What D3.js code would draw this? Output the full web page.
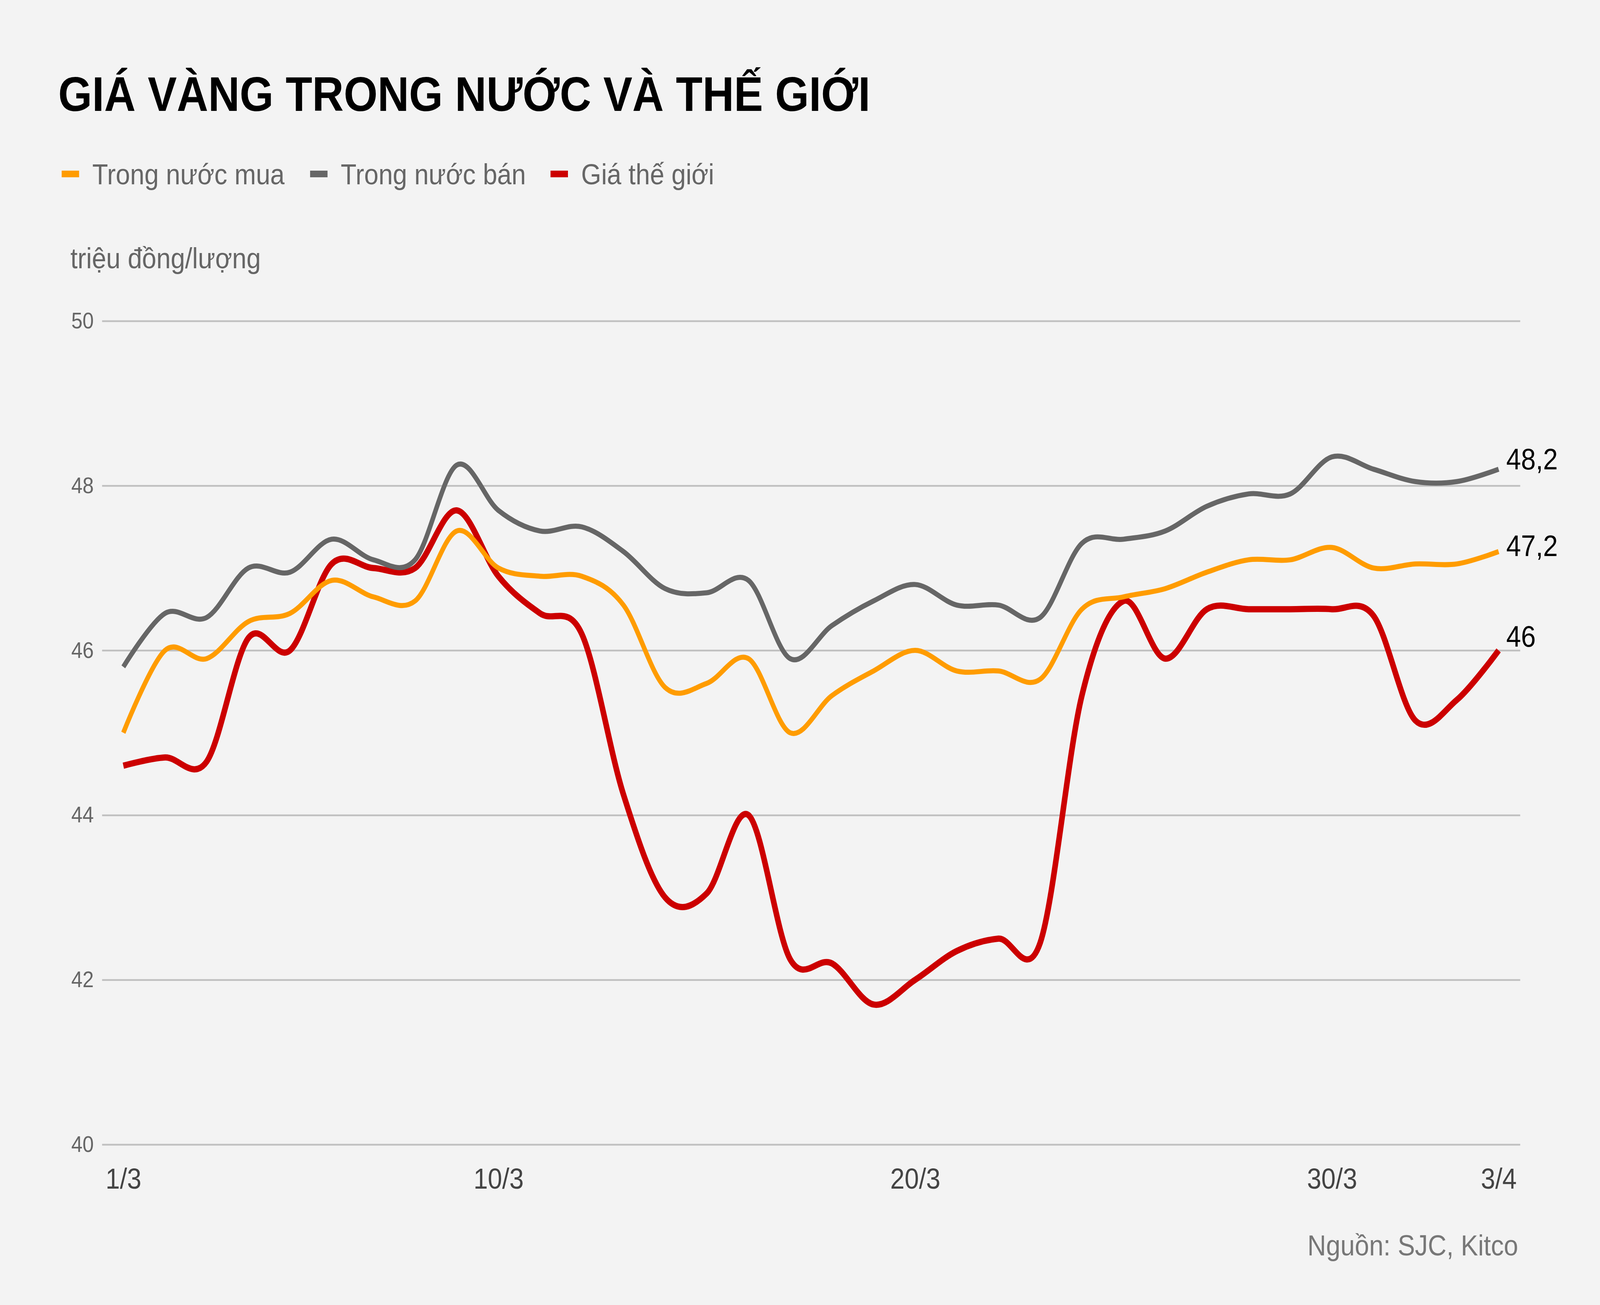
<!DOCTYPE html>
<html>
<head>
<meta charset="utf-8">
<script src="https://cdn.jsdelivr.net/npm/d3@7"></script>
<style>
  html, body { margin: 0; padding: 0; background: #f3f3f3; overflow: hidden; }
  svg { display: block; width: 100vw; height: 100vh; font-family: "Liberation Sans", Arial, sans-serif; }
</style>
</head>
<body>
<div id="chart"></div>
<script>
// dates, one point per day
const dates = ['1/3','2/3','3/3','4/3','5/3','6/3','7/3','8/3','9/3','10/3',
  '11/3','12/3','13/3','14/3','15/3','16/3','17/3','18/3','19/3','20/3',
  '21/3','22/3','23/3','24/3','25/3','26/3','27/3','28/3','29/3','30/3',
  '31/3','1/4','2/4','3/4'];
const tickDates = ['1/3', '10/3', '20/3', '30/3', '3/4'];
const yTicks = [40, 42, 44, 46, 48, 50];

// triệu đồng/lượng
const muaValues = [45.0, 46.0, 45.9, 46.35, 46.45, 46.85, 46.65, 46.6, 47.45, 47.0,
  46.9, 46.9, 46.55, 45.55, 45.6, 45.9, 45.0, 45.45, 45.75, 46.0,
  45.75, 45.75, 45.65, 46.5, 46.65, 46.75, 46.95, 47.1, 47.1, 47.25,
  47.0, 47.05, 47.05, 47.2];
const banValues = [45.8, 46.45, 46.4, 47.0, 46.95, 47.35, 47.1, 47.1, 48.25, 47.7,
  47.45, 47.5, 47.2, 46.75, 46.7, 46.85, 45.9, 46.3, 46.6, 46.8,
  46.55, 46.55, 46.4, 47.3, 47.35, 47.45, 47.75, 47.9, 47.9, 48.35,
  48.2, 48.05, 48.05, 48.2];
const theGioiValues = [44.6, 44.7, 44.65, 46.15, 46.0, 47.05, 47.0, 47.0, 47.7, 46.9,
  46.45, 46.2, 44.25, 43.0, 43.05, 44.0, 42.25, 42.2, 41.7, 42.0,
  42.35, 42.5, 42.45, 45.45, 46.6, 45.9, 46.5, 46.5, 46.5, 46.5,
  46.42, 45.15, 45.4, 46.0];

const seriesNames = ['Trong nước mua', 'Trong nước bán', 'Giá thế giới'];
const seriesColors = ['#ff9c00', '#666666', '#cc0000'];

// drawn in reference units, stretched to whatever the window is
const W = 4592, H = 3342;

const svg = d3.select('#chart').append('svg')
  .attr('viewBox', `0 0 ${W} ${H}`)
  .attr('preserveAspectRatio', 'none');

svg.append('rect')
  .attr('width', W)
  .attr('height', H)
  .attr('fill', '#f3f3f3');

// Title
svg.append('text')
  .attr('x', 167)
  .attr('y', 284)
  .style('font-size', '125px')
  .style('font-weight', 'bold')
  .attr('fill', '#000')
  .text('GIÁ VÀNG TRONG NƯỚC VÀ THẾ GIỚI');

// Legend
const legendX = [177, 890, 1580];
seriesNames.forEach((name, i) => {
  svg.append('rect')
    .attr('x', legendX[i])
    .attr('y', 437)
    .attr('width', 50)
    .attr('height', 17)
    .attr('fill', seriesColors[i]);
  svg.append('text')
    .attr('x', legendX[i] + 88)
    .attr('y', 472)
    .style('font-size', '74px')
    .attr('fill', '#666')
    .text(name);
});

// Unit label
svg.append('text')
  .attr('x', 202)
  .attr('y', 687)
  .style('font-size', '74px')
  .attr('fill', '#666')
  .text('triệu đồng/lượng');

// Scales
const gridLeft = 293, gridRight = 4363;
const xScale = d3.scaleLinear()
  .domain([0, dates.length - 1])
  .range([354, 4301]);

const yScale = d3.scaleLinear()
  .domain([40, 50])
  .range([2931, 822]);

// Y axis with grid lines
const yAxis = svg.append('g')
  .attr('transform', `translate(${gridLeft},0)`)
  .call(d3.axisLeft(yScale)
    .tickValues(yTicks)
    .tickSize(-(gridRight - gridLeft))
    .tickPadding(24)
    .tickFormat(d3.format('d')));
yAxis.select('.domain').remove();
yAxis.selectAll('line')
  .attr('stroke', '#c0c0c0')
  .attr('stroke-width', 4.5);
yAxis.selectAll('text')
  .style('font-size', '58px')
  .style('font-family', '"Liberation Sans", Arial, sans-serif')
  .attr('fill', '#666');

// X axis
const xAxis = svg.append('g')
  .attr('transform', 'translate(0,2931)')
  .call(d3.axisBottom(xScale)
    .tickValues(tickDates.map(d => dates.indexOf(d)))
    .tickSize(0)
    .tickPadding(60)
    .tickFormat(i => dates[i]));
xAxis.select('.domain').remove();
xAxis.selectAll('text')
  .style('font-size', '74px')
  .style('font-family', '"Liberation Sans", Arial, sans-serif')
  .attr('fill', '#444');

// Lines
const seriesData = [muaValues, banValues, theGioiValues];
const widths = [13, 13, 16];
const line = d3.line()
  .x((d, i) => xScale(i))
  .y(d => yScale(d))
  .curve(d3.curveCardinal.tension(0));

// world price at the bottom, domestic lines over it
[2, 1, 0].forEach(k => {
  svg.append('path')
    .datum(seriesData[k])
    .attr('d', line)
    .attr('fill', 'none')
    .attr('stroke', seriesColors[k])
    .attr('stroke-width', widths[k])
    .attr('stroke-linejoin', 'round');
});

// End labels
const labelShift = [11, 0, -10];
seriesData.forEach((vals, k) => {
  const last = vals.length - 1;
  svg.append('text')
    .attr('x', xScale(last) + 22)
    .attr('y', yScale(vals[last]) + labelShift[k])
    .style('font-size', '76px')
    .attr('fill', '#000')
    .text(String(vals[last]).replace('.', ','));
});

// Source
svg.append('text')
  .attr('x', 4357)
  .attr('y', 3215)
  .attr('text-anchor', 'end')
  .style('font-size', '74px')
  .attr('fill', '#777')
  .text('Nguồn: SJC, Kitco');
</script>
</body>
</html>
